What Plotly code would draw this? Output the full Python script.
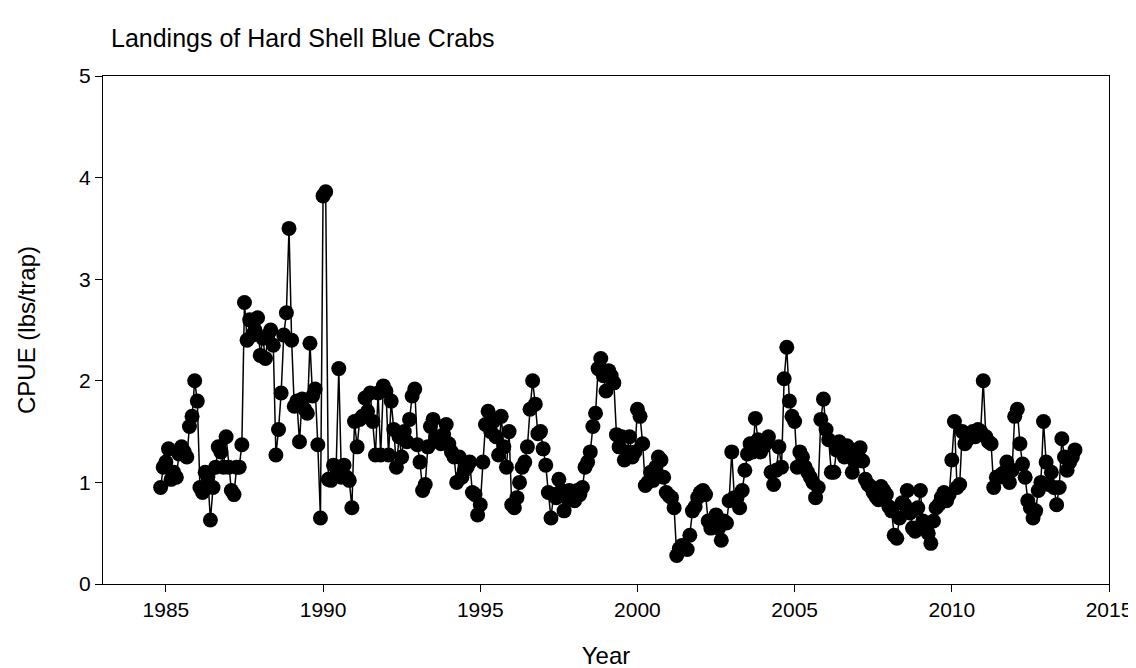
import plotly.graph_objects as go

# monthly CPUE, starting Nov 1984
start_year = 1984
start_month = 11

cpue = [
    0.95, 1.15,  # 1984 (Nov-Dec)
    1.20, 1.33, 1.03, 1.10, 1.05, 1.28, 1.35, 1.30, 1.25, 1.55, 1.65, 2.00,  # 1985
    1.80, 0.95, 0.90, 1.10, 1.05, 0.63, 0.95, 1.15, 1.35, 1.30, 1.15, 1.45,  # 1986
    1.15, 0.92, 0.88, 1.15, 1.15, 1.37, 2.77, 2.40, 2.60, 2.45, 2.50, 2.62,  # 1987
    2.25, 2.42, 2.22, 2.45, 2.50, 2.35, 1.27, 1.52, 1.88, 2.45, 2.67, 3.50,  # 1988
    2.40, 1.75, 1.80, 1.40, 1.82, 1.72, 1.68, 2.37, 1.85, 1.92, 1.37, 0.65,  # 1989
    3.82, 3.86, 1.03, 1.02, 1.17, 1.15, 2.12, 1.05, 1.17, 1.05, 1.02, 0.75,  # 1990
    1.60, 1.35, 1.62, 1.65, 1.83, 1.70, 1.88, 1.60, 1.27, 1.88, 1.27, 1.95,  # 1991
    1.90, 1.27, 1.80, 1.52, 1.15, 1.45, 1.25, 1.50, 1.40, 1.62, 1.85, 1.92,  # 1992
    1.37, 1.20, 0.92, 0.98, 1.35, 1.55, 1.62, 1.45, 1.42, 1.38, 1.47, 1.57,  # 1993
    1.38, 1.30, 1.25, 1.00, 1.25, 1.05, 1.12, 1.15, 1.20, 0.90, 0.88, 0.68,  # 1994
    0.78, 1.20, 1.57, 1.70, 1.50, 1.60, 1.45, 1.27, 1.65, 1.35, 1.15, 1.50,  # 1995
    0.78, 0.75, 0.85, 1.00, 1.15, 1.20, 1.35, 1.72, 2.00, 1.77, 1.48, 1.50,  # 1996
    1.33, 1.17, 0.90, 0.65, 0.88, 0.85, 1.03, 0.92, 0.72, 0.85, 0.92, 0.90,  # 1997
    0.82, 0.92, 0.88, 0.95, 1.15, 1.20, 1.30, 1.55, 1.68, 2.12, 2.22, 2.05,  # 1998
    1.90, 2.10, 2.05, 1.98, 1.47, 1.35, 1.45, 1.22, 1.30, 1.45, 1.25, 1.30,  # 1999
    1.72, 1.65, 1.38, 0.97, 1.00, 1.10, 1.02, 1.15, 1.25, 1.22, 1.05, 0.90,  # 2000
    0.87, 0.85, 0.75, 0.28, 0.35, 0.38, 0.36, 0.34, 0.48, 0.72, 0.76, 0.85,  # 2001
    0.90, 0.92, 0.88, 0.62, 0.55, 0.60, 0.68, 0.55, 0.43, 0.62, 0.60, 0.82,  # 2002
    1.30, 0.85, 0.85, 0.75, 0.92, 1.12, 1.28, 1.38, 1.30, 1.63, 1.42, 1.30,  # 2003
    1.35, 1.38, 1.45, 1.10, 0.98, 1.12, 1.35, 1.15, 2.02, 2.33, 1.80, 1.65,  # 2004
    1.60, 1.15, 1.30, 1.25, 1.15, 1.10, 1.05, 1.00, 0.85, 0.95, 1.62, 1.82,  # 2005
    1.52, 1.42, 1.10, 1.10, 1.32, 1.40, 1.30, 1.25, 1.36, 1.30, 1.10, 1.20,  # 2006
    1.32, 1.34, 1.21, 1.03, 0.98, 0.96, 0.90, 0.86, 0.83, 0.96, 0.92, 0.88,  # 2007
    0.76, 0.72, 0.48, 0.45, 0.65, 0.80, 0.78, 0.92, 0.70, 0.55, 0.52, 0.75,  # 2008
    0.92, 0.62, 0.55, 0.50, 0.40, 0.62, 0.75, 0.78, 0.85, 0.90, 0.82, 0.88,  # 2009
    1.22, 1.60, 0.95, 0.98, 1.50, 1.38, 1.42, 1.48, 1.50, 1.45, 1.52, 1.50,  # 2010
    2.00, 1.45, 1.40, 1.38, 0.95, 1.05, 1.05, 1.08, 1.10, 1.20, 1.00, 1.12,  # 2011
    1.65, 1.72, 1.38, 1.18, 1.05, 0.82, 0.75, 0.65, 0.72, 0.92, 1.00, 1.60,  # 2012
    1.20, 0.98, 1.10, 0.95, 0.78, 0.95, 1.43, 1.25, 1.12, 1.20, 1.25, 1.32,  # 2013
]

x_ticks = [1985, 1990, 1995, 2000, 2005, 2010, 2015]
y_ticks = [0, 1, 2, 3, 4, 5]

# decimal year for each monthly value
dates = [start_year + (start_month - 1 + i) / 12 for i in range(len(cpue))]

fig = go.Figure()
fig.add_trace(go.Scatter(
    x=dates, y=cpue, mode='lines+markers',
    line=dict(color='black', width=1.5),
    marker=dict(color='black', size=15),
    showlegend=False
))

axis_font = dict(family='Liberation Sans, Arial, sans-serif', size=21, color='black')

fig.update_layout(
    width=1136, height=668,
    margin=dict(l=95, r=26, t=68, b=91),
    paper_bgcolor='white', plot_bgcolor='white',
    font=axis_font,
    title=dict(text='Landings of Hard Shell Blue Crabs', x=103 / 1136, xref='container',
               xanchor='left', y=0.955, yanchor='middle',
               font=dict(size=25, color='black')),
    xaxis=dict(
        range=[1983, 2015], tickvals=x_ticks, ticks='outside', ticklen=7,
        tickcolor='black', showline=True, linecolor='black', linewidth=1,
        mirror=True, showgrid=False, zeroline=False,
        title=dict(text='Year', font=dict(size=24), standoff=26)
    ),
    yaxis=dict(
        range=[0, 5], tickvals=y_ticks, ticks='outside', ticklen=7,
        tickcolor='black', showline=True, linecolor='black', linewidth=1,
        mirror=True, showgrid=False, zeroline=False,
        title=dict(text='CPUE (lbs/trap)', font=dict(size=24), standoff=36)
    ),
)

fig.write_html("out.html")
